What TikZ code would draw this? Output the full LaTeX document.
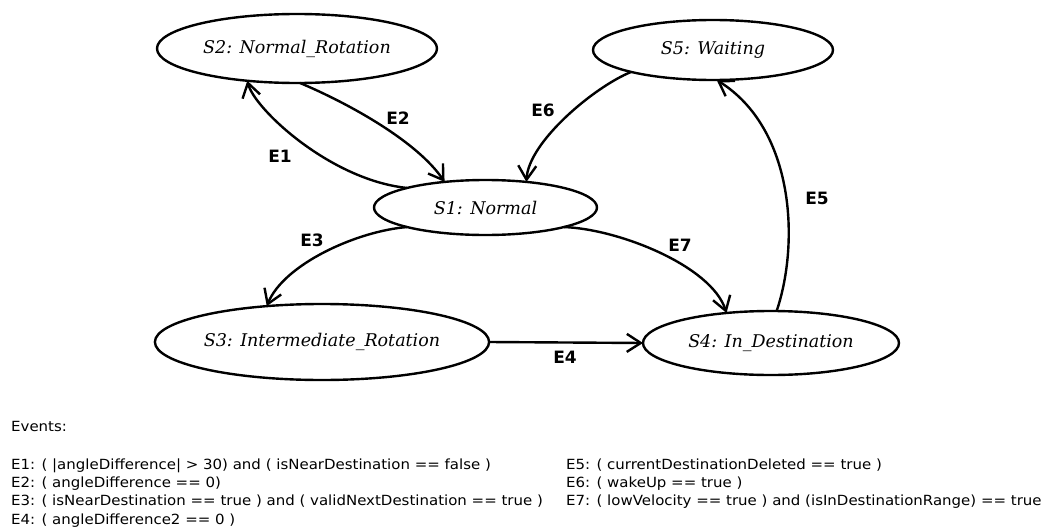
\documentclass[tikz,border=0pt]{standalone}
\usepackage{fontspec}
\setmainfont{DejaVu Sans}
\newfontfamily\statefont{DejaVu Serif}
\newfontfamily\legendfont[FakeStretch=1.07]{DejaVu Sans}
\usetikzlibrary{shapes.geometric,arrows.meta}

\tikzset{
  state/.style={ellipse, draw, line width=2.4pt, inner sep=0pt, outer sep=0pt,
    font=\statefont\itshape\fontsize{17.5}{20}\selectfont},
  trans/.style={line width=2.4pt, -{Straight Barb[length=14pt,width=18pt]}},
  evlabel/.style={font=\bfseries\fontsize{17}{20}\selectfont},
  legend/.style={anchor=base west, inner sep=0pt, font=\legendfont\fontsize{14}{17}\selectfont}
}

\begin{document}
\begin{tikzpicture}[x=1pt,y=1pt]
  \useasboundingbox (0,0) rectangle (1049,-527);

  % states
  \node[state, minimum width=280pt, minimum height=69pt] (s2) at (297,-48.5) {S2: Normal\_Rotation};
  \node[state, minimum width=240pt, minimum height=60pt] (s5) at (713,-50) {S5: Waiting};
  \node[state, minimum width=223pt, minimum height=55pt] (s1) at (485.5,-207.5) {S1: Normal};
  \node[state, minimum width=320pt, minimum height=76pt] (s3) at (322,-342) {S3: Intermediate\_Rotation};
  \node[state, minimum width=256pt, minimum height=64pt] (s4) at (771,-343) {S4: In\_Destination};

  % transitions
  \draw[trans] (s1.166)   .. controls +(-77,8)  and +(7,-28)  .. (s2.213.6);
  \draw[trans] (s2.-85)   .. controls +(50,-21) and +(-27,40) .. (s1.148);
  \draw[trans] (s5.195)   .. controls +(-37,-15) and +(2,40)  .. (s1.32);
  \draw[trans] (s4.80)    .. controls +(23,68)  and +(78,-49) .. (s5.-83);
  \draw[trans] (s1.194.7) .. controls +(-50,-4) and +(17,42)  .. (s3.147);
  \draw[trans] (s1.-14.7) .. controls +(55,-2)  and +(-15,47) .. (s4.146);
  \draw[trans] (s3.east) -- (s4.west);

  % event labels
  \node[evlabel] (l1) at (280,-156) {E1};
  \node[evlabel] (l2) at (398,-118) {E2};
  \node[evlabel] (l3) at (312,-240) {E3};
  \node[evlabel] (l4) at (565,-357) {E4};
  \node[evlabel] (l5) at (817,-198) {E5};
  \node[evlabel] (l6) at (543,-110) {E6};
  \node[evlabel] (l7) at (680,-245) {E7};

  % legend
  \node[legend] (ev)  at (11,-431) {Events:};
  \node[legend] (d1)  at (11,-469) {E1: ( |angleDifference| > 30) and ( isNearDestination == false )};
  \node[legend] (d2)  at (11,-487.3) {E2: ( angleDifference == 0)};
  \node[legend] (d3)  at (11,-505.6) {E3: ( isNearDestination == true ) and ( validNextDestination == true )};
  \node[legend] (d4)  at (11,-524) {E4: ( angleDifference2 == 0 )};
  \node[legend] (d5)  at (566,-469) {E5: ( currentDestinationDeleted == true )};
  \node[legend] (d6)  at (566,-487.3) {E6: ( wakeUp == true )};
  \node[legend] (d7)  at (566,-505.6) {E7: ( lowVelocity == true ) and (isInDestinationRange) == true};
\end{tikzpicture}
\end{document}
